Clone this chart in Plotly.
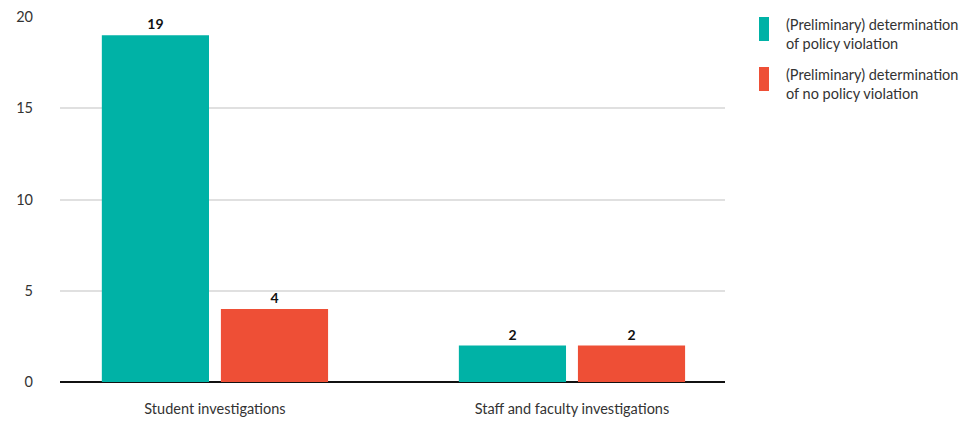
import plotly.graph_objects as go

categories = ["Student investigations", "Staff and faculty investigations"]
violation = [19, 2]
no_violation = [4, 2]
series_names = ["(Preliminary) determination<br>of policy violation",
                "(Preliminary) determination<br>of no policy violation"]
colors = ["#00B2A6", "#EE4F36"]
y_ticks = [0, 5, 10, 15, 20]

FONT = "Lato, 'Open Sans', sans-serif"
TEXT = "#333333"
FS = 14.5

fig = go.Figure()
for vals, name, col in zip([violation, no_violation], series_names, colors):
    fig.add_trace(go.Bar(
        x=categories, y=vals, name=name, marker=dict(color=col, line=dict(width=0)),
        text=[str(v) for v in vals], textposition="outside",
        textfont=dict(family=FONT, size=14, color="#111111", weight="bold"),
        cliponaxis=False, showlegend=False,
    ))

# custom legend (tall swatches)
for i, (name, col) in enumerate(zip(series_names, colors)):
    top = 17 + i * 50
    fig.add_shape(type="rect", xref="paper", yref="paper",
                  x0=(759 - 60) / 665, x1=(769 - 60) / 665,
                  y0=(382 - top) / 365, y1=(382 - top - 24) / 365,
                  fillcolor=col, line=dict(width=0))
    fig.add_annotation(xref="paper", yref="paper", x=(784 - 60) / 665,
                       y=(382 - top + 3) / 365, xanchor="left", yanchor="top",
                       text=name, showarrow=False, align="left",
                       font=dict(family=FONT, size=FS, color=TEXT))

fig.update_layout(
    width=977, height=421,
    margin=dict(l=60, r=252, t=17, b=39, autoexpand=False),
    paper_bgcolor="white", plot_bgcolor="white",
    barmode="group", bargap=0.333, bargroupgap=0.1,
    font=dict(family=FONT, size=FS, color=TEXT),
    xaxis=dict(range=[-0.434, 1.4286], showgrid=False, showline=False,
               ticks="", ticklabelstandoff=16, automargin=False,
               tickfont=dict(family=FONT, size=FS, color=TEXT)),
    yaxis=dict(range=[0, 20], tickvals=y_ticks, showgrid=True,
               gridcolor="#E0E0E0", gridwidth=1.5, automargin=False,
               zeroline=True, zerolinecolor="#111111", zerolinewidth=2,
               showline=False, ticks="", ticklabelstandoff=26,
               tickfont=dict(family=FONT, size=FS, color=TEXT)),
)

fig.write_html("out.html", config={"displayModeBar": False},
               post_script="document.body.style.margin='0';")
